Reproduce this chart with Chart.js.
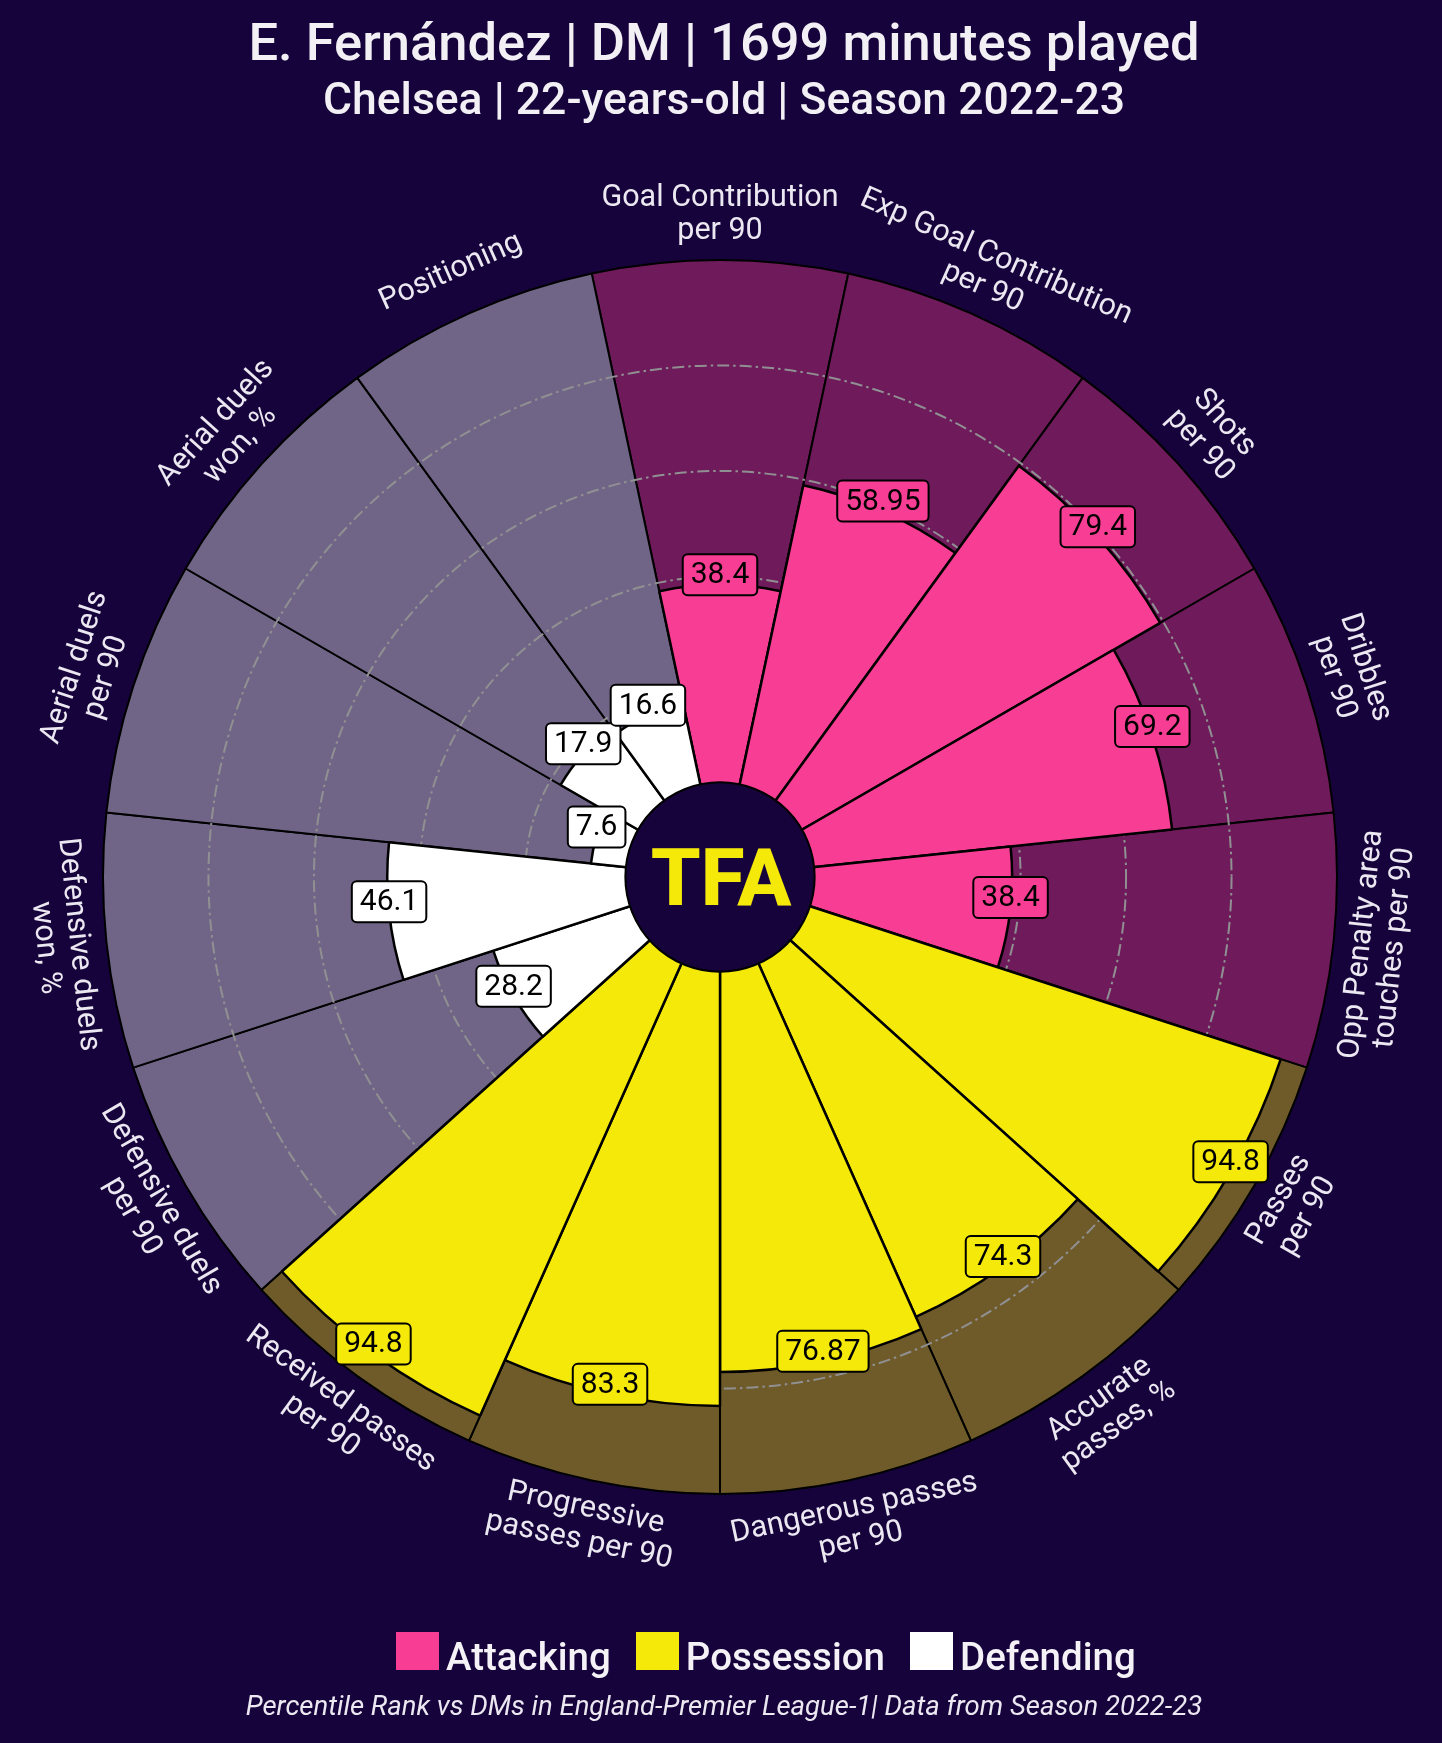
<!DOCTYPE html>
<html>
<head>
<meta charset="utf-8">
<script src="https://cdn.jsdelivr.net/npm/chart.js@4.4.1/dist/chart.umd.min.js"></script>
<style>
  html, body { margin:0; padding:0; background:#16033b; }
  body { width:1442px; height:1743px; position:relative; overflow:hidden; font-family:Roboto, "Noto Sans", sans-serif; color:#f2f0f5; }
  canvas { position:absolute; left:0; top:0; }
  .txt { position:absolute; white-space:nowrap; left:724px; transform:translateX(-50%); }
  #title { top:16px; font-size:52.5px; line-height:52.5px; font-weight:500; }
  #subtitle { top:77px; font-size:44.5px; line-height:44.5px; font-weight:500; }
  #foot { top:1692px; font-size:27.5px; line-height:27.5px; font-style:italic; font-weight:400; color:#ece8f2; }
  #legend { position:absolute; left:396px; top:1632px; font-size:38.5px; line-height:38px; font-weight:500; white-space:nowrap; color:#f4f2f7; }
  .item { display:inline; margin-right:25px; }
  .sq { display:inline-block; width:43px; height:38px; margin-right:7px; vertical-align:baseline; }
</style>
</head>
<body>
<canvas id="c" width="1442" height="1743" style="width:1442px;height:1743px"></canvas>
<div id="title" class="txt">E. Fernández | DM | 1699 minutes played</div>
<div id="subtitle" class="txt">Chelsea | 22-years-old | Season 2022-23</div>
<div id="legend"></div>
<div id="foot" class="txt">Percentile Rank vs DMs in England-Premier League-1| Data from Season 2022-23</div>
<script>
// ---- data ----
const categories = [
  "Goal Contribution\nper 90",
  "Exp Goal Contribution\nper 90",
  "Shots\nper 90",
  "Dribbles\nper 90",
  "Opp Penalty area\ntouches per 90",
  "Passes\nper 90",
  "Accurate\npasses, %",
  "Dangerous passes\nper 90",
  "Progressive\npasses per 90",
  "Received passes\nper 90",
  "Defensive duels\nper 90",
  "Defensive duels\nwon, %",
  "Aerial duels\nper 90",
  "Aerial duels\nwon, %",
  "Positioning"
];
const values = [38.4, 58.95, 79.4, 69.2, 38.4, 94.8, 74.3, 76.87, 83.3, 94.8, 28.2, 46.1, 7.6, 17.9, 16.6];
const groups = ["Attacking","Attacking","Attacking","Attacking","Attacking",
                "Possession","Possession","Possession","Possession","Possession",
                "Defending","Defending","Defending","Defending","Defending"];
const maxValues = [100,100,100,100,100,100,100,100,100,100,100,100,100,100,100];
const gridValues = [20, 40, 60, 80];
const groupNames = ["Attacking","Possession","Defending"];

// ---- styles ----
const barColors = { Attacking:"#f73e94", Possession:"#f5e90a", Defending:"#ffffff" };
const bgColors  = { Attacking:"#6e1a5b", Possession:"#6f5a29", Defending:"#716587" };
const pageBg = "#16033b";

// legend (HTML)
const leg = document.getElementById("legend");
groupNames.forEach(g => {
  const it = document.createElement("span"); it.className = "item";
  const sq = document.createElement("span"); sq.className = "sq"; sq.style.background = barColors[g];
  it.appendChild(sq); it.appendChild(document.createTextNode(g));
  leg.appendChild(it);
});

function normDeg(d){ d = d % 360; return d < 0 ? d + 360 : d; }

const pizzaPlugin = {
  id: "pizza",
  afterDatasetDraw(chart, args) {
    if (args.index !== 1) return;
    const s = chart.scales.r, ctx = chart.ctx;
    ctx.save();
    ctx.strokeStyle = "#909092";
    ctx.lineWidth = 2;
    ctx.setLineDash([12, 4, 2.5, 4]);
    gridValues.forEach(v => {
      const r = s.getDistanceFromCenterForValue(v);
      ctx.beginPath();
      ctx.arc(s.xCenter, s.yCenter, r, 0, Math.PI * 2);
      ctx.stroke();
    });
    ctx.restore();
  },
  afterDatasetsDraw(chart) {
    const s = chart.scales.r, ctx = chart.ctx;
    const cx = s.xCenter, cy = s.yCenter;
    ctx.save();
    // center circle + logo
    ctx.beginPath();
    ctx.arc(cx, cy, s.getDistanceFromCenterForValue(0) + 5, 0, Math.PI * 2);
    ctx.fillStyle = pageBg; ctx.fill();
    ctx.lineWidth = 2; ctx.strokeStyle = "#000"; ctx.stroke();
    ctx.fillStyle = "#f5e90a";
    ctx.font = "800 80px Roboto";
    ctx.textAlign = "center"; ctx.textBaseline = "alphabetic";
    ctx.fillText("TFA", cx + 1, cy + 28);

    const meta = chart.getDatasetMeta(0);
    // value labels
    ctx.font = "400 30px Roboto";
    meta.data.forEach((arc, i) => {
      const mid = (arc.startAngle + arc.endAngle) / 2;
      const r = arc.outerRadius;
      const x = cx + r * Math.cos(mid);
      const y = cy + r * Math.sin(mid) - 10;
      const txt = String(values[i]);
      const w = ctx.measureText(txt).width + 16, h = 41;
      ctx.beginPath();
      ctx.roundRect(x - w / 2, y - h / 2, w, h, 5);
      ctx.fillStyle = barColors[groups[i]]; ctx.fill();
      ctx.lineWidth = 2; ctx.strokeStyle = "#000"; ctx.stroke();
      ctx.fillStyle = "#000";
      ctx.textAlign = "center"; ctx.textBaseline = "middle";
      ctx.fillText(txt, x, y + 1);
    });
    // category labels
    ctx.font = "400 30.5px Roboto";
    ctx.fillStyle = "#ece8f2";
    ctx.textAlign = "center"; ctx.textBaseline = "middle";
    const R = s.drawingArea + 45;
    meta.data.forEach((arc, i) => {
      const mid = (arc.startAngle + arc.endAngle) / 2;
      const x = cx + R * Math.cos(mid), y = cy + R * Math.sin(mid);
      const deg = normDeg(mid * 180 / Math.PI + 90);
      let rot = deg > 90 && deg < 270 ? deg - 180 : deg;
      ctx.save();
      ctx.translate(x, y);
      ctx.rotate(rot * Math.PI / 180);
      const lines = categories[i].split("\n");
      const lh = 33;
      lines.forEach((ln, k) => ctx.fillText(ln, 0, (k - (lines.length - 1) / 2) * lh));
      ctx.restore();
    });
    ctx.restore();
  }
};

new Chart(document.getElementById("c"), {
  type: "polarArea",
  data: {
    labels: categories.map(c => c.replace("\n", " ")),
    datasets: [
      { data: values, backgroundColor: groups.map(g => barColors[g]), borderColor: "#000", borderWidth: 2.5 },
      { data: maxValues, backgroundColor: groups.map(g => bgColors[g]), borderColor: "#000", borderWidth: 2 }
    ]
  },
  options: {
    responsive: false,
    animation: false,
    events: [],
    layout: { padding: { left: 103, top: 260, right: 105, bottom: 249 } },
    plugins: { legend: { display: false }, tooltip: { enabled: false } },
    scales: {
      r: {
        min: -17, max: 100, startAngle: -12,
        grid: { display: false }, angleLines: { display: false },
        ticks: { display: false }, pointLabels: { display: false }
      }
    }
  },
  plugins: [pizzaPlugin]
});
</script>
</body>
</html>
